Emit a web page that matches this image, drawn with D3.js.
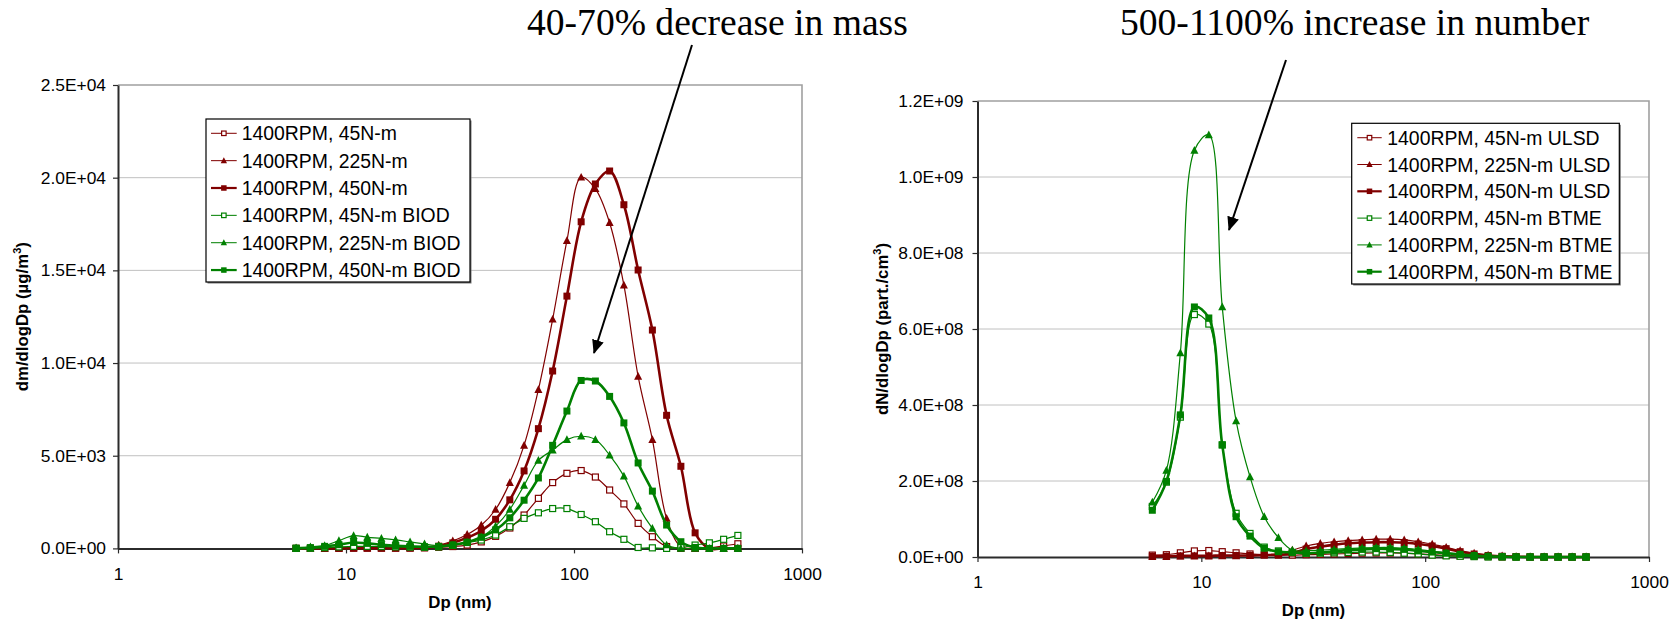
<!DOCTYPE html>
<html>
<head>
<meta charset="utf-8">
<script src="https://cdn.jsdelivr.net/npm/d3@7"></script>
<style>
  html, body { margin: 0; padding: 0; background: #ffffff; }
  svg { display: block; font-family: "Liberation Sans", Arial, sans-serif; }
</style>
</head>
<body>
<svg id="chart" width="1679" height="621"></svg>
<script>
// ---------------- DATA ----------------
const diameters = [6.04, 6.98, 8.06, 9.31, 10.8, 12.4, 14.3, 16.5, 19.1, 22.1, 25.5, 29.4, 34.0, 39.2, 45.3, 52.3,
                   60.4, 69.8, 80.6, 93.1, 107.5, 124.1, 143.3, 165.5, 191.1, 220.7, 254.8, 294.3, 339.8, 392.4, 453.2, 523.3];

const massLabels = ["1400RPM, 45N-m", "1400RPM, 225N-m", "1400RPM, 450N-m",
                    "1400RPM, 45N-m BIOD", "1400RPM, 225N-m BIOD", "1400RPM, 450N-m BIOD"];
const mass45 = [0, 0, 0, 10, 20, 20, 20, 20, 20, 30, 60, 100, 180, 350, 650, 1100,
                1800, 2700, 3550, 4050, 4200, 3850, 3150, 2400, 1350, 630, 100, 0, 0, 30, 130, 250];
const mass225 = [0, 0, 0, 10, 20, 20, 20, 20, 30, 60, 180, 400, 750, 1250, 2100, 3550,
                 5560, 8560, 12360, 16600, 20020, 19400, 17570, 14200, 9280, 5870, 1620, 100, 0, 0, 0, 0];
const mass450 = [0, 0, 0, 0, 10, 10, 10, 10, 20, 40, 120, 300, 580, 950, 1570, 2620,
                 4180, 6460, 9570, 13610, 17620, 19660, 20360, 18540, 15020, 11780, 7180, 4430, 840, 0, 0, 0];
const mass45b = [0, 10, 40, 80, 110, 110, 100, 80, 70, 60, 80, 160, 320, 450, 720, 1170,
                 1620, 1920, 2150, 2150, 1830, 1440, 900, 490, 50, 30, 0, 50, 180, 300, 490, 700];
const mass225b = [20, 75, 150, 420, 690, 600, 540, 460, 350, 240, 150, 180, 330, 620, 1200, 2100,
                  3400, 4750, 5300, 5870, 6050, 5870, 5030, 3900, 2280, 1080, 180, 0, 0, 0, 0, 0];
const mass450b = [10, 40, 110, 200, 320, 270, 200, 145, 110, 90, 100, 190, 330, 600, 1000, 1650,
                  2600, 3800, 5560, 7410, 9060, 9030, 8200, 6770, 4610, 3090, 1260, 360, 50, 0, 0, 0];

const numLabels = ["1400RPM, 45N-m ULSD", "1400RPM, 225N-m ULSD", "1400RPM, 450N-m ULSD",
                   "1400RPM, 45N-m BTME", "1400RPM, 225N-m BTME", "1400RPM, 450N-m BTME"];
const num45 = [5e6, 6e6, 1.1e7, 1.6e7, 1.7e7, 1.4e7, 1.1e7, 8e6, 6e6, 5e6, 5e6, 6e6, 7e6, 8e6, 9e6, 1.0e7,
               1.05e7, 1.05e7, 1.0e7, 8e6, 6e6, 4e6, 2.5e6, 1.5e6, 1e6, 0, 0, 0, 0, 0, 0, 0];
const num225 = [1e6, 1e6, 2e6, 3e6, 3e6, 3e6, 3e6, 4e6, 6e6, 9e6, 1.8e7, 2.9e7, 3.6e7, 4.0e7, 4.3e7, 4.5e7,
                4.7e7, 4.7e7, 4.5e7, 4.0e7, 3.4e7, 2.55e7, 1.66e7, 1.0e7, 5e6, 3e6, 1e6, 0, 0, 0, 0, 0];
const num450 = [2e6, 2e6, 3e6, 3e6, 3e6, 4e6, 4e6, 4e6, 5e6, 6e6, 1.0e7, 2.1e7, 2.7e7, 3.2e7, 3.6e7, 3.8e7,
                3.9e7, 3.9e7, 3.8e7, 3.4e7, 2.9e7, 2.2e7, 1.4e7, 8e6, 4e6, 2e6, 1e6, 0, 0, 0, 0, 0];
const num45b = [1.33e8, 1.97e8, 3.68e8, 6.38e8, 6.13e8, 2.95e8, 1.15e8, 6.2e7, 2.6e7, 1.6e7, 1.2e7, 1.0e7, 1.0e7, 1.1e7, 1.2e7, 1.3e7,
                1.3e7, 1.2e7, 1.0e7, 8e6, 5e6, 3e6, 2e6, 1e6, 0, 0, 0, 0, 0, 0, 0, 0];
const num225b = [1.44e8, 2.28e8, 5.37e8, 1.07e9, 1.111e9, 6.58e8, 3.58e8, 2.11e8, 1.06e8, 5.1e7, 1.8e7, 1.6e7, 1.8e7, 2.0e7, 2.2e7, 2.4e7,
                 2.5e7, 2.5e7, 2.3e7, 2.0e7, 1.5e7, 1.1e7, 7e6, 4e6, 2e6, 1e6, 0, 0, 0, 0, 0, 0];
const num450b = [1.23e8, 1.99e8, 3.74e8, 6.58e8, 6.29e8, 2.95e8, 1.06e8, 5.5e7, 2.3e7, 1.4e7, 1.2e7, 9.7e6, 1.2e7, 1.5e7, 1.8e7, 2.0e7,
                 2.2e7, 2.1e7, 2.0e7, 1.6e7, 1.3e7, 1.0e7, 7e6, 4e6, 2e6, 1e6, 0, 0, 0, 0, 0, 0];

const xTicks = [1, 10, 100, 1000];
const massTicks = [0, 5000, 10000, 15000, 20000, 25000];
const numTicks = [0, 2e8, 4e8, 6e8, 8e8, 1e9, 1.2e9];

// ---------------- STYLE ----------------
const RED = "#800000", GREEN = "#008000";
const styles = [
  {color: RED,   marker: "open",     width: 1.2},
  {color: RED,   marker: "triangle", width: 1.2},
  {color: RED,   marker: "square",   width: 2.6},
  {color: GREEN, marker: "open",     width: 1.2},
  {color: GREEN, marker: "triangle", width: 1.2},
  {color: GREEN, marker: "square",   width: 2.6}
];

function sci(v) {
  if (v === 0) return "0.0E+00";
  const e = Math.floor(Math.log10(Math.abs(v)) + 1e-9);
  const m = v / Math.pow(10, e);
  return m.toFixed(1) + "E+" + String(e).padStart(2, "0");
}

const svg = d3.select("#chart");

function drawMarker(g, type, color, cx, cy, s) {
  if (type === "square") {
    g.append("rect").attr("x", cx - s / 2).attr("y", cy - s / 2).attr("width", s).attr("height", s)
      .attr("fill", color);
  } else if (type === "open") {
    const o = s - 1;
    g.append("rect").attr("x", cx - o / 2).attr("y", cy - o / 2).attr("width", o).attr("height", o)
      .attr("fill", "#fff").attr("stroke", color).attr("stroke-width", 1.2);
  } else {
    const h = s * 1.05;
    g.append("path")
      .attr("d", `M${cx},${cy - h * 0.6}L${cx + h * 0.55},${cy + h * 0.45}L${cx - h * 0.55},${cy + h * 0.45}Z`)
      .attr("fill", color);
  }
}

function chart(cfg) {
  const x = d3.scaleLog().domain([1, 1000]).range([cfg.x0, cfg.x1]);
  const y = d3.scaleLinear().domain([0, cfg.yMax]).range([cfg.y0, cfg.y1]);
  const g = svg.append("g");

  // gridlines
  g.append("g").selectAll("line").data(cfg.yTicks.filter(t => t > 0 && t < cfg.yMax)).join("line")
    .attr("x1", cfg.x0).attr("x2", cfg.x1).attr("y1", d => y(d)).attr("y2", d => y(d))
    .attr("stroke", "#c0c0c0").attr("stroke-width", 1);
  // top & right border
  g.append("path").attr("d", `M${cfg.x0},${cfg.y1}H${cfg.x1}V${cfg.y0}`)
    .attr("fill", "none").attr("stroke", "#a0a0a0").attr("stroke-width", 1.6);

  // axes
  const ya = g.append("g").attr("transform", `translate(${cfg.x0},0)`)
    .call(d3.axisLeft(y).tickValues(cfg.yTicks).tickFormat(sci).tickSize(5).tickSizeOuter(0).tickPadding(cfg.yPad));
  const xa = g.append("g").attr("transform", `translate(0,${cfg.y0})`)
    .call(d3.axisBottom(x).tickValues(xTicks).tickFormat(d3.format("d")).tickSize(5).tickSizeOuter(0).tickPadding(14));
  [ya, xa].forEach(a => {
    a.select(".domain").attr("stroke", "#2b2b2b").attr("stroke-width", 2);
    a.selectAll(".tick line").attr("stroke", "#2b2b2b").attr("stroke-width", 1.2);
    a.selectAll("text").attr("fill", "#000")
      .style("font-size", "17.4px").style("font-family", "'Liberation Sans', Arial, sans-serif");
  });

  // series
  const line = d3.line().x(d => x(d[0])).y(d => y(d[1])).curve(d3.curveCatmullRom.alpha(0.5));
  cfg.series.forEach((vals, i) => {
    const st = styles[i];
    const pts = diameters.map((dd, k) => [dd, vals[k]]);
    g.append("path").datum(pts).attr("d", line).attr("fill", "none")
      .attr("stroke", st.color).attr("stroke-width", st.width);
    const mg = g.append("g");
    pts.forEach(p => drawMarker(mg, st.marker, st.color, x(p[0]), y(p[1]), 7));
  });

  // axis titles
  g.append("text").attr("x", cfg.xLabelX).attr("y", cfg.xLabelY)
    .attr("text-anchor", "middle").attr("font-weight", "bold").style("font-size", "16.8px").text("Dp (nm)");
  const yt = g.append("text").attr("transform", `translate(${cfg.yLabelX},${(cfg.y0 + cfg.y1) / 2}) rotate(-90)`)
    .attr("text-anchor", "middle").attr("font-weight", "bold").style("font-size", "16.8px");
  yt.append("tspan").text(cfg.yLabel);
  yt.append("tspan").style("font-size", "11px").attr("dy", -7).text("3");
  yt.append("tspan").attr("dy", 7).text(")");

  // legend
  const L = cfg.legend;
  g.append("rect").attr("x", L.x + 1.5).attr("y", L.y + 1.5).attr("width", L.w).attr("height", L.h)
    .attr("fill", "#777");
  g.append("rect").attr("x", L.x).attr("y", L.y).attr("width", L.w).attr("height", L.h)
    .attr("fill", "#fff").attr("stroke", "#000").attr("stroke-width", 1.2);
  cfg.labels.forEach((lab, i) => {
    const st = styles[i];
    const cy = L.row0 + i * L.dy;
    g.append("line").attr("x1", L.lx0).attr("x2", L.lx1).attr("y1", cy).attr("y2", cy)
      .attr("stroke", st.color).attr("stroke-width", st.width * 0.85);
    drawMarker(g, st.marker, st.color, (L.lx0 + L.lx1) / 2, cy, 5.5);
    g.append("text").attr("x", L.tx).attr("y", cy + 7).style("font-size", "19.4px").attr("fill", "#000").text(lab);
  });
}

chart({
  x0: 118, x1: 802, y0: 548.4, y1: 85, yMax: 25000, yTicks: massTicks, yPad: 7,
  series: [mass45, mass225, mass450, mass45b, mass225b, mass450b], labels: massLabels,
  xLabelX: 460, xLabelY: 608, yLabelX: 28, yLabel: "dm/dlogDp (µg/m",
  legend: {x: 206, y: 119, w: 264, h: 163, row0: 133.3, dy: 27.35, lx0: 211, lx1: 236.7, tx: 241.7}
});
chart({
  x0: 977.5, x1: 1649, y0: 557, y1: 101, yMax: 1.2e9, yTicks: numTicks, yPad: 9,
  series: [num45, num225, num450, num45b, num225b, num450b], labels: numLabels,
  xLabelX: 1313.5, xLabelY: 616, yLabelX: 888, yLabel: "dN/dlogDp (part./cm",
  legend: {x: 1351.7, y: 123.3, w: 267.6, h: 160.7, row0: 137.7, dy: 26.8, lx0: 1357.3, lx1: 1381.7, tx: 1387.3}
});

// annotations
const defs = svg.append("defs");
defs.append("marker").attr("id", "ah").attr("viewBox", "0 0 14 12").attr("refX", 13).attr("refY", 6)
  .attr("markerWidth", 14).attr("markerHeight", 12).attr("markerUnits", "userSpaceOnUse").attr("orient", "auto")
  .append("path").attr("d", "M0,0L14,6L0,12Z").attr("fill", "#000");

const notes = [
  {text: "40-70% decrease in mass", x: 527, y: 35, from: [692, 45], to: [594, 353]},
  {text: "500-1100% increase in number", x: 1120, y: 35, from: [1286, 60], to: [1229, 230]}
];
notes.forEach(n => {
  svg.append("text").attr("x", n.x).attr("y", n.y)
    .style("font-family", "'Liberation Serif', 'Times New Roman', serif")
    .style("font-size", "37.6px").attr("fill", "#000").text(n.text);
  svg.append("line").attr("x1", n.from[0]).attr("y1", n.from[1]).attr("x2", n.to[0]).attr("y2", n.to[1])
    .attr("stroke", "#000").attr("stroke-width", 2).attr("marker-end", "url(#ah)");
});
</script>
</body>
</html>
